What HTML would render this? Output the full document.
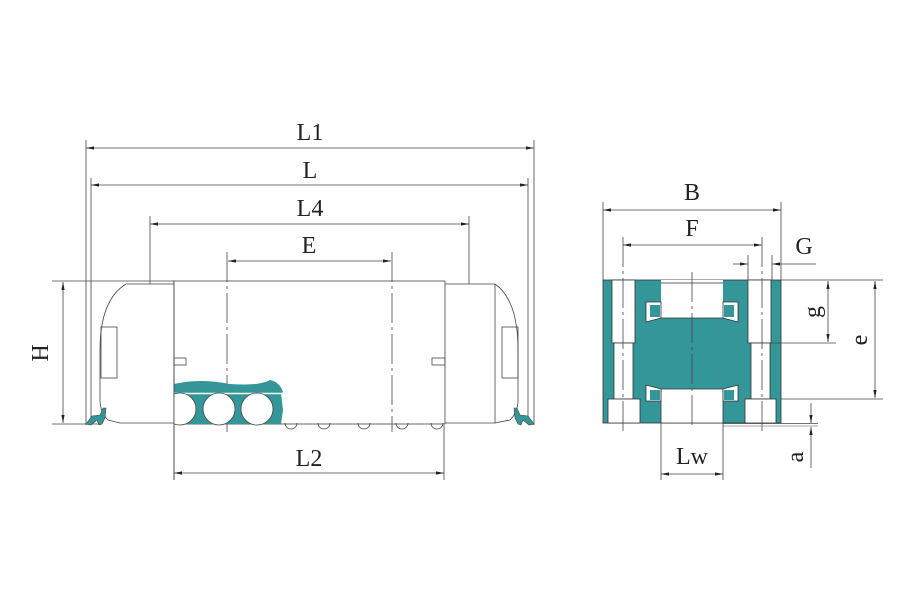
<!DOCTYPE html>
<html><head><style>body{margin:0;background:#fff}svg{display:block}text{font-family:"Liberation Serif",serif;fill:#222}</style></head><body>
<svg width="900" height="600" viewBox="0 0 900 600" xmlns="http://www.w3.org/2000/svg">
<defs><marker id="a" viewBox="0 0 10 6" refX="10" refY="3" markerWidth="10" markerHeight="6" orient="auto-start-reverse"><path d="M0,1 L10,3 L0,5 Z" fill="#222"/></marker>
<clipPath id="c"><rect x="174" y="370" width="120" height="60"/></clipPath></defs>
<g stroke="#444" stroke-width="0.8" fill="none">
<line x1="86" y1="140" x2="86" y2="425"/><line x1="91" y1="178" x2="91" y2="420"/>
<line x1="534" y1="140" x2="534" y2="425"/><line x1="528" y1="178" x2="528" y2="420"/>
<line x1="150" y1="216" x2="150" y2="284"/><line x1="469" y1="216" x2="469" y2="284"/>
<line x1="52" y1="281" x2="174" y2="281"/><line x1="52" y1="424" x2="100" y2="424"/>
<line x1="174" y1="425" x2="174" y2="480"/><line x1="444" y1="425" x2="444" y2="480"/>
<line x1="86" y1="148" x2="534" y2="148" marker-start="url(#a)" marker-end="url(#a)"/>
<line x1="91" y1="185" x2="528" y2="185" marker-start="url(#a)" marker-end="url(#a)"/>
<line x1="150" y1="224" x2="469" y2="224" marker-start="url(#a)" marker-end="url(#a)"/>
<line x1="228" y1="261" x2="391" y2="261" marker-start="url(#a)" marker-end="url(#a)"/>
<line x1="174" y1="473" x2="444" y2="473" marker-start="url(#a)" marker-end="url(#a)"/>
<line x1="63" y1="282" x2="63" y2="423" marker-start="url(#a)" marker-end="url(#a)"/>
<rect x="174" y="281" width="271" height="143"/>
<path d="M174,284 H126 Q100,300 100,350 V400 Q100,412 108,420 L120,423 H174"/>
<path d="M445,284 H495 Q518,300 518,350 V400 Q518,412 510,420 L495,423 H445"/>
<line x1="495" y1="284" x2="495" y2="423"/>
<rect x="101" y="327" width="16" height="51"/><rect x="502" y="327" width="16" height="51"/>
<rect x="174" y="358" width="12" height="7"/><rect x="432" y="358" width="13" height="7"/>
<g stroke-dasharray="30,4,3,4"><line x1="227" y1="252" x2="227" y2="432"/><line x1="392" y1="252" x2="392" y2="432"/></g>
</g>
<path d="M174,393 H281 L283,410 L281,424 H174 Z" fill="#339699"/>
<path d="M174,384 Q200,378 230,384 Q260,386 270,380 Q280,382 283,392 L281,393 H174 Z" fill="#339699"/>
<line x1="174" y1="393.5" x2="281" y2="393.5" stroke="#fff" stroke-width="1.5"/>
<g fill="#fff" stroke="#444" stroke-width="0.8" clip-path="url(#c)"><circle cx="180" cy="409" r="16"/><circle cx="219" cy="409" r="16"/><circle cx="257" cy="409" r="16"/></g>
<line x1="174" y1="281" x2="174" y2="480" stroke="#444" stroke-width="0.8"/>
<g fill="none" stroke="#444" stroke-width="0.8"><path d="M285,423 a6,6 0 0 0 12,0 M318,423 a6,6 0 0 0 12,0 M358,423 a6,6 0 0 0 12,0 M396,423 a6,6 0 0 0 12,0 M431,423 a6,6 0 0 0 12,0"/></g>
<path d="M86,424 L92,416 L100,415 L103,408 L106,408 L105,418 L102,424 L99,425 L97,420 L91,425 Z" fill="#339699" stroke="#444" stroke-width="0.6"/>
<path d="M534,424 L528,416 L520,415 L517,408 L514,408 L515,418 L518,424 L521,425 L523,420 L529,425 Z" fill="#339699" stroke="#444" stroke-width="0.6"/>
<g font-size="24" text-anchor="middle"><text x="310" y="140">L1</text><text x="310" y="178">L</text><text x="310" y="216">L4</text><text x="309" y="253">E</text><text x="309" y="466">L2</text><text transform="translate(48,353) rotate(-90)">H</text></g>
<rect x="603" y="280" width="178" height="143" fill="#339699" stroke="#333" stroke-width="0.8"/>
<g fill="#fff" stroke="#333" stroke-width="0.8">
<rect x="612" y="280" width="23" height="63"/><rect x="614" y="343" width="19" height="56"/><rect x="608" y="399" width="32" height="24"/>
<rect x="748" y="280" width="23" height="63"/><rect x="751" y="343" width="19" height="56"/><rect x="745" y="399" width="31" height="24"/>
<path d="M661,280 V318 H723 V280 Z" stroke="none"/><path d="M661,423 V389 H723 V423 Z"/>
<path d="M646,302 H661 V318 L646,322 Z"/><path d="M738,302 H723 V318 L738,322 Z"/>
<path d="M646,401 H661 V389 L646,385 Z"/><path d="M738,401 H723 V389 L738,385 Z"/>
</g>
<g fill="#339699"><rect x="650" y="305" width="10" height="12"/><rect x="724" y="305" width="10" height="12"/><rect x="650" y="390" width="10" height="10"/><rect x="724" y="390" width="10" height="10"/></g>
<line x1="661" y1="318" x2="723" y2="318" stroke="#333" stroke-width="0.8"/>
<line x1="661" y1="283" x2="723" y2="283" stroke="#333" stroke-width="0.8"/>
<g stroke="#444" stroke-width="0.8" fill="none">
<line x1="603" y1="202" x2="603" y2="280"/><line x1="781" y1="202" x2="781" y2="280"/>
<line x1="623" y1="237" x2="623" y2="432" stroke-dasharray="30,4,3,4"/><line x1="762" y1="237" x2="762" y2="432" stroke-dasharray="30,4,3,4"/>
<line x1="692" y1="272" x2="692" y2="428" stroke-dasharray="30,4,3,4"/>
<line x1="748" y1="255" x2="748" y2="280"/><line x1="772" y1="255" x2="772" y2="280"/>
<line x1="603" y1="210" x2="781" y2="210" marker-start="url(#a)" marker-end="url(#a)"/>
<line x1="623" y1="245" x2="762" y2="245" marker-start="url(#a)" marker-end="url(#a)"/>
<line x1="733" y1="264" x2="748" y2="264" marker-end="url(#a)"/><line x1="816" y1="264" x2="772" y2="264" marker-end="url(#a)"/>
<line x1="781" y1="280" x2="883" y2="280"/><line x1="771" y1="343" x2="836" y2="343"/><line x1="781" y1="399" x2="883" y2="399"/>
<line x1="723" y1="423.5" x2="818" y2="423.5"/><line x1="723" y1="426" x2="818" y2="426" stroke="#888"/>
<line x1="828" y1="281" x2="828" y2="342" marker-start="url(#a)" marker-end="url(#a)"/>
<line x1="875" y1="281" x2="875" y2="398" marker-start="url(#a)" marker-end="url(#a)"/>
<line x1="811" y1="403" x2="811" y2="423" marker-end="url(#a)"/><line x1="811" y1="468" x2="811" y2="427" marker-end="url(#a)"/>
<line x1="661" y1="423" x2="661" y2="480"/><line x1="723" y1="423" x2="723" y2="480"/>
<line x1="661" y1="474" x2="723" y2="474" marker-start="url(#a)" marker-end="url(#a)"/>
</g>
<g font-size="24" text-anchor="middle"><text x="692" y="200">B</text><text x="692" y="236">F</text><text x="804" y="254">G</text><text x="692" y="464">Lw</text>
<text transform="translate(820,312) rotate(-90)">g</text><text transform="translate(867,340) rotate(-90)">e</text><text transform="translate(803,457) rotate(-90)">a</text></g>
</svg>
</body></html>
